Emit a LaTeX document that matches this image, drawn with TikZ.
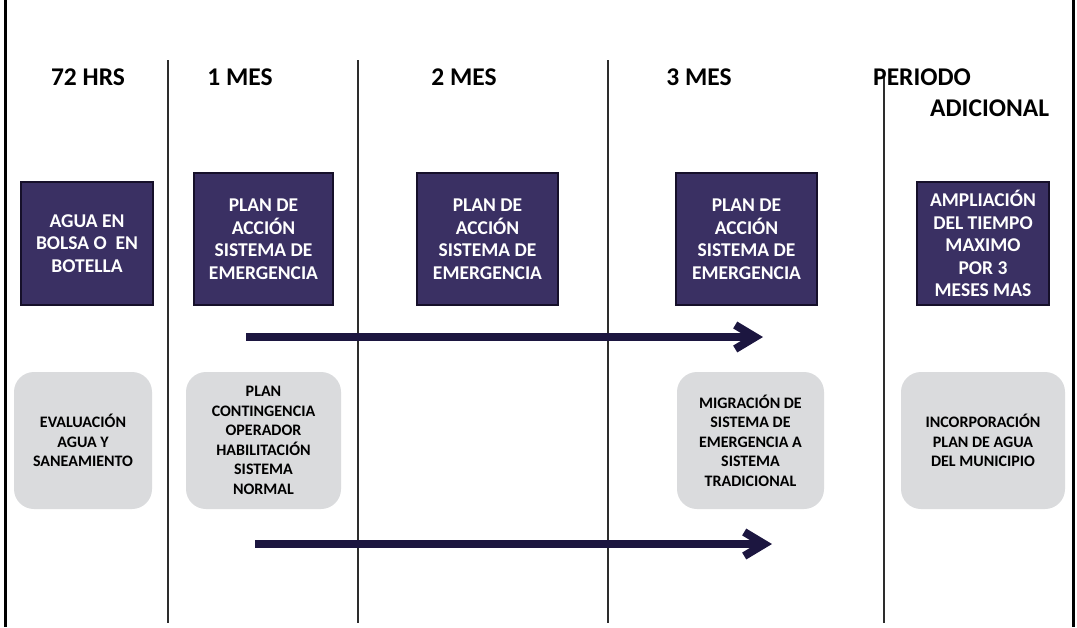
\documentclass[tikz,border=0pt]{standalone}
\usepackage{fontspec}
\setmainfont{Carlito}
\usetikzlibrary{arrows.meta}

\definecolor{boxfill}{RGB}{58,48,99}
\definecolor{boxedge}{RGB}{22,16,42}
\definecolor{softfill}{RGB}{218,219,221}
\definecolor{arrowblue}{RGB}{28,22,64}
\definecolor{linegray}{RGB}{45,45,45}

\begin{document}
\begin{tikzpicture}[x=1pt,y=-1pt,
    darkbox/.style={rectangle,draw=boxedge,fill=boxfill,line width=1.5pt,text=white,
                    align=center,inner sep=0pt,font=\fontsize{19.5}{22.5}\selectfont\bfseries},
    softbox/.style={rectangle,rounded corners=20pt,fill=softfill,align=center,inner sep=0pt,
                    font=\fontsize{16}{19.5}\selectfont\bfseries},
    period/.style={inner sep=0pt,font=\fontsize{25.5}{30}\selectfont\bfseries},
    divider/.style={line width=1.3pt,draw=linegray},
    timeline/.style={line width=8pt,draw=arrowblue,-{Straight Barb[length=20pt,width=24pt]}}]

  \fill[white] (0,0) rectangle (1077,627);
  \useasboundingbox (0,0) rectangle (1077,627);

  % frame and columns
  \draw[line width=3pt] (5,0) -- (5,627);
  \draw[line width=3pt] (1073,0) -- (1073,627);
  \foreach \x/\top in {168/60,358/60,608/60,884/72}
    \draw[divider] (\x,\top) -- (\x,623);

  % periods
  \node[period] (h72) at (88,77) {72 HRS};
  \node[period] (m1) at (240,77) {1 MES};
  \node[period] (m2) at (464,77) {2 MES};
  \node[period] (m3) at (699,77) {3 MES};
  \node[period,anchor=west] (pa) at (873,77) {PERIODO};
  \node[period,anchor=west] (pb) at (930,108) {ADICIONAL};

  % actions
  \node[darkbox,minimum width=132pt,minimum height=123pt] (agua) at (87,243.5)
       {AGUA EN\\BOLSA O \ EN\\BOTELLA};
  \node[darkbox,minimum width=139pt,minimum height=132pt] (plan1) at (263.5,239)
       {PLAN DE\\ACCIÓN\\SISTEMA DE\\EMERGENCIA};
  \node[darkbox,minimum width=141pt,minimum height=132pt] (plan2) at (487.5,239)
       {PLAN DE\\ACCIÓN\\SISTEMA DE\\EMERGENCIA};
  \node[darkbox,minimum width=141pt,minimum height=132pt] (plan3) at (746.5,239)
       {PLAN DE\\ACCIÓN\\SISTEMA DE\\EMERGENCIA};
  \node[darkbox,minimum width=132pt,minimum height=123pt] (ampl) at (983,243.5)
       {AMPLIACIÓN\\DEL TIEMPO\\MAXIMO\\POR 3\\MESES MAS};

  % follow up
  \node[softbox,minimum width=138pt,minimum height=137pt] (eval) at (83,440.5)
       {EVALUACIÓN\\AGUA Y\\SANEAMIENTO};
  \node[softbox,minimum width=155pt,minimum height=137pt] (cont) at (263.5,440.5)
       {PLAN\\CONTINGENCIA\\OPERADOR\\HABILITACIÓN\\SISTEMA\\NORMAL};
  \node[softbox,minimum width=147pt,minimum height=137pt] (migr) at (750.5,440.5)
       {MIGRACIÓN DE\\SISTEMA DE\\EMERGENCIA A\\SISTEMA\\TRADICIONAL};
  \node[softbox,minimum width=164pt,minimum height=137pt] (inco) at (983,440.5)
       {INCORPORACIÓN\\PLAN DE AGUA\\DEL MUNICIPIO};

  % timelines
  \coordinate (t1s) at (246,337);
  \coordinate (t1e) at (763,337);
  \coordinate (t2s) at (255,544);
  \coordinate (t2e) at (772,544);
  \draw[timeline] (t1s) -- (t1e);
  \draw[timeline] (t2s) -- (t2e);
\end{tikzpicture}
\end{document}
